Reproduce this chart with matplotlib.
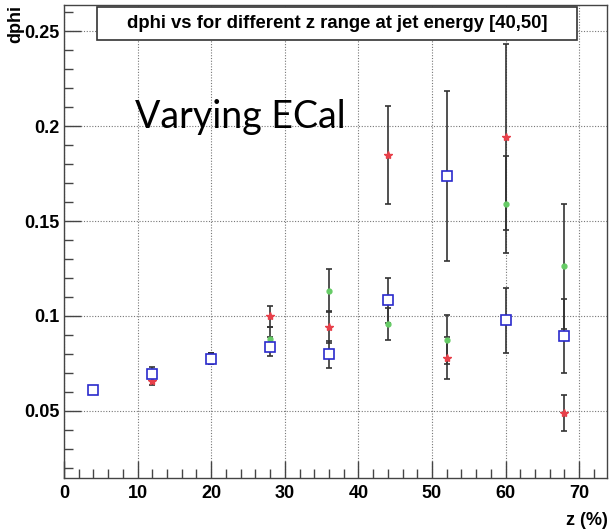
import numpy as np
import matplotlib.pyplot as plt
from matplotlib.ticker import MultipleLocator
from matplotlib.patches import Rectangle

# z bin centres (%)
z = [4, 12, 20, 28, 36, 44, 52, 60, 68]

# red stars
red_y = [0.061, 0.0659, 0.0776, 0.0998, 0.0942, 0.185, 0.078, 0.1944, 0.049]
red_err = [0.0015, 0.002, 0.003, 0.0055, 0.0085, 0.0258, 0.011, 0.049, 0.0093]

# green dots
green_y = [0.061, 0.0712, 0.0776, 0.088, 0.1134, 0.0958, 0.0875, 0.1588, 0.1262]
green_err = [0.0015, 0.002, 0.003, 0.006, 0.0114, 0.0085, 0.0128, 0.0256, 0.033]

# blue open squares
blue_y = [0.061, 0.0694, 0.0776, 0.0837, 0.0798, 0.1082, 0.1737, 0.0977, 0.0895]
blue_err = [0.0015, 0.002, 0.003, 0.005, 0.0072, 0.012, 0.045, 0.017, 0.0195]

xticks = [0, 10, 20, 30, 40, 50, 60, 70]
yticks = [0.05, 0.1, 0.15, 0.2, 0.25]
ytick_labels = ['0.05', '0.1', '0.15', '0.2', '0.25']

title = 'dphi vs for different z range at jet energy [40,50]'

plt.rcParams['font.family'] = ['Liberation Sans', 'DejaVu Sans']

fig = plt.figure(figsize=(6.12, 5.29), dpi=100)
ax = fig.add_axes([0.1046, 0.0964, 0.8874, 0.894])

ebar = dict(fmt='none', ecolor='#333333', elinewidth=1.2, capsize=2, capthick=1.2, zorder=2)
ax.errorbar(z, red_y, yerr=red_err, **ebar)
ax.errorbar(z, green_y, yerr=green_err, **ebar)
ax.errorbar(z, blue_y, yerr=blue_err, **ebar)

ax.plot(z, red_y, linestyle='none', marker='*', markersize=6, color='#e8404a', zorder=3)
ax.plot(z, green_y, linestyle='none', marker='o', markersize=3.5, color='#66cc66', zorder=3)
ax.plot(z, blue_y, linestyle='none', marker='s', markersize=7, markerfacecolor='white',
        markeredgecolor='#2a2acc', markeredgewidth=1.2, zorder=4)

ax.set_xlim(0, 73.8)
ax.set_ylim(0.0147, 0.2637)
ax.set_xticks(xticks)
ax.set_xticklabels([str(t) for t in xticks])
ax.set_yticks(yticks)
ax.set_yticklabels(ytick_labels)
ax.xaxis.set_minor_locator(MultipleLocator(2))
ax.yaxis.set_minor_locator(MultipleLocator(0.01))
ax.tick_params(which='major', direction='in', length=12, width=1, color='#444444',
               labelsize=13, top=False, right=False)
ax.tick_params(which='minor', direction='in', length=6.5, width=1, color='#444444',
               top=False, right=False)
for lab in ax.get_xticklabels() + ax.get_yticklabels():
    lab.set_fontweight('bold')
ax.tick_params(axis='x', pad=5)
ax.tick_params(axis='y', pad=3)

ax.grid(True, which='major', linestyle=(0, (1, 1.5)), color='#777777', linewidth=0.8)
ax.set_axisbelow(True)
for s in ax.spines.values():
    s.set_color('#444444')
    s.set_linewidth(1)

# title box (ROOT-style pave)
fig.patches.append(Rectangle((0.1585, 0.9244), 0.7843, 0.0624, transform=fig.transFigure,
                             facecolor='white', edgecolor='#333333', linewidth=1.2, zorder=10))
fig.text(0.5507, 0.9556, title, ha='center', va='center', fontsize=13.3, fontweight='bold',
         zorder=11)

fig.text(0.025, 0.99, 'dphi', rotation=90, ha='center', va='top', fontsize=13, fontweight='bold')
fig.text(0.993, 0.0, 'z (%)', ha='right', va='bottom', fontsize=13, fontweight='bold')

ax.text(9.65, 0.199, 'Varying ECal', fontsize=27, family=['Lato', 'DejaVu Sans'], va='baseline')

fig.savefig('out.png', dpi=100)
